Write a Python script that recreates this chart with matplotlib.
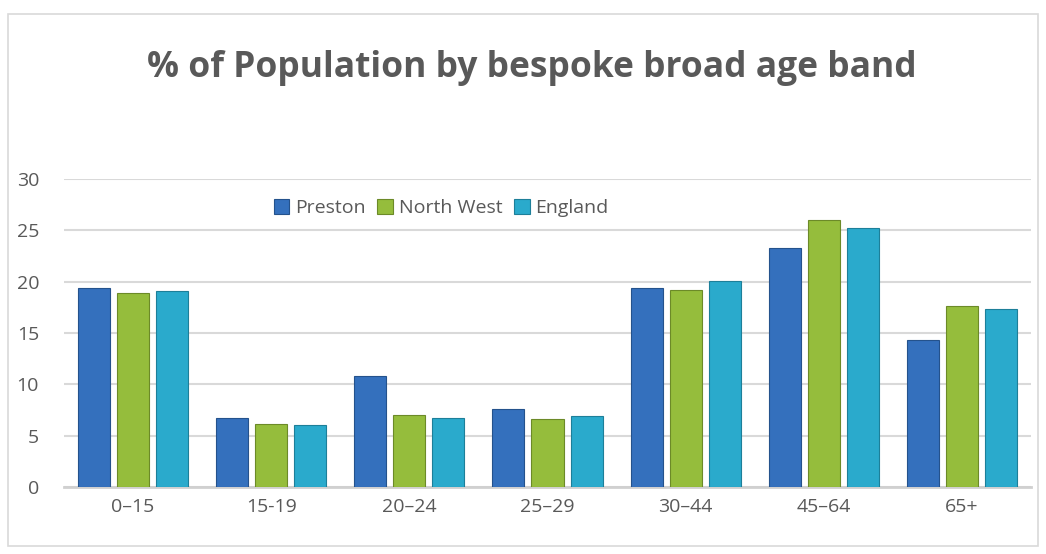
import numpy as np
import matplotlib.pyplot as plt
from matplotlib.patches import Rectangle

# Daten
age_bands = ['0–15', '15-19', '20–24', '25–29', '30–44', '45–64', '65+']
preston = [19.4, 6.7, 10.8, 7.6, 19.4, 23.3, 14.3]
north_west = [18.9, 6.1, 7.0, 6.6, 19.2, 26.0, 17.6]
england = [19.1, 6.0, 6.7, 6.9, 20.1, 25.2, 17.3]

series = [('Preston', preston, '#3470BD', '#24528c'),
          ('North West', north_west, '#95BD3C', '#6c8a28'),
          ('England', england, '#2AAACC', '#1d7f99')]

plt.rcParams['font.family'] = ['Open Sans', 'DejaVu Sans']

fig = plt.figure(figsize=(10.46, 5.54), dpi=100)
ax = fig.add_axes([64 / 1046, 1 - 487 / 554, 967 / 1046, 308 / 554])

x = np.arange(len(age_bands))
w = 0.232
step = 0.283
for i, (name, vals, col, edge) in enumerate(series):
    ax.bar(x + (i - 1) * step, vals, width=w, color=col, edgecolor=edge,
           linewidth=0.8, label=name, zorder=3)

ax.set_xlim(-0.5, len(age_bands) - 0.5)
ax.set_ylim(0, 30)
ax.set_yticks(range(0, 31, 5))
ax.set_xticks(x)
ax.set_xticklabels(age_bands)
ax.grid(axis='y', color='#D9D9D9', linewidth=1.5, zorder=0)
for s in ['top', 'right', 'left']:
    ax.spines[s].set_visible(False)
ax.spines['bottom'].set_color('#D0D0D0')
ax.spines['bottom'].set_linewidth(2)
ax.tick_params(axis='both', length=0, labelsize=14, colors='#595959')
ax.tick_params(axis='y', pad=18)
ax.tick_params(axis='x', pad=8)

leg = ax.legend(loc='center', bbox_to_anchor=(0.39, 0.906), ncol=3, frameon=False,
                fontsize=14, handlelength=0.8, handleheight=0.8, handletextpad=0.3,
                columnspacing=0.6)
for t in leg.get_texts():
    t.set_color('#595959')

fig.text(0.508, 1 - 68 / 554, '% of Population by bespoke broad age band',
         ha='center', va='center', fontsize=25.5, fontweight='bold', color='#595959')

fig.patches.append(Rectangle((8 / 1046, 1 - 546 / 554), 1030 / 1046, 532 / 554,
                             transform=fig.transFigure, fill=False,
                             edgecolor='#D9D9D9', linewidth=1.2))

fig.savefig('out.png', dpi=100)
